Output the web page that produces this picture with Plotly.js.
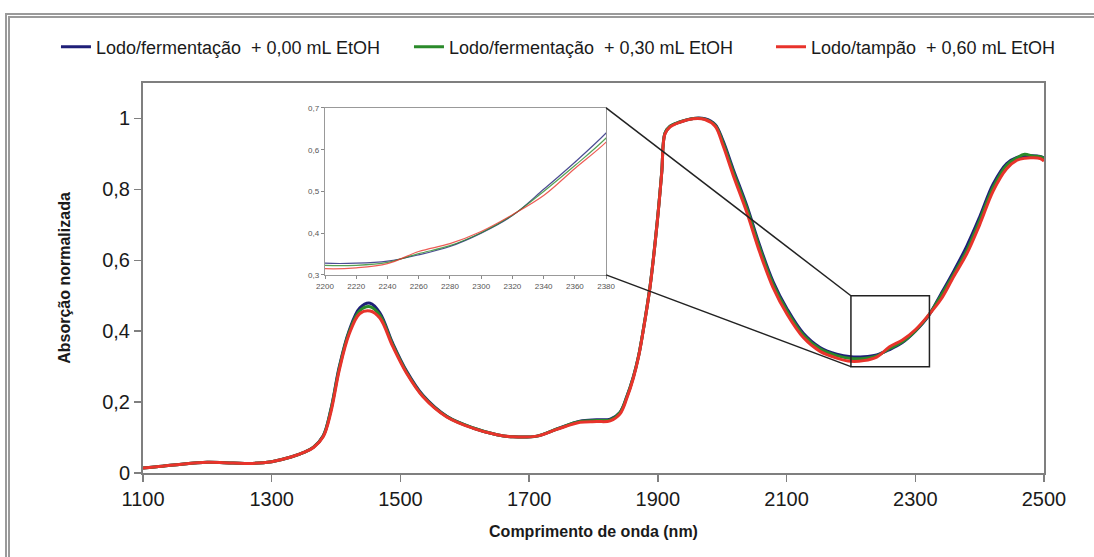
<!DOCTYPE html>
<html>
<head>
<meta charset="utf-8">
<script src="https://cdn.plot.ly/plotly-3.0.1.min.js"></script>
<style>
  html, body { margin: 0; padding: 0; background: #ffffff; overflow: hidden; }
  #chart { width: 1094px; height: 557px; }
  #frame { position: absolute; left: 5px; top: 13px; width: 1300px; height: 800px;
           border-top: 5px double #9a9a9a; border-left: 5px double #9a9a9a; pointer-events: none; }
</style>
</head>
<body>
<div id="chart"></div>
<div id="frame"></div>
<script>
// ---- data ----
const wavelength = [1100,1130,1160,1200,1240,1270,1300,1330,1350,1365,1380,1392,1405,1420,1437,1453,1468,1488,1510,1535,1572,1613,1650,1675,1712,1743,1779,1805,1826,1841,1852,1862,1870,1877,1888,1899,1906,1911,1919,1934,1955,1973,1989,2001,2017,2038,2058,2079,2101,2126,2152,2178,2200,2220,2240,2260,2280,2300,2320,2340,2360,2380,2400,2421,2442,2458,2470,2482,2494,2500];

const fermentacao000 = [0.014,0.019,0.025,0.030,0.028,0.027,0.032,0.045,0.058,0.073,0.105,0.180,0.300,0.400,0.466,0.479,0.452,0.366,0.286,0.219,0.160,0.127,0.108,0.102,0.104,0.124,0.146,0.150,0.152,0.171,0.217,0.272,0.330,0.400,0.528,0.708,0.848,0.958,0.978,0.990,1.000,0.999,0.983,0.938,0.857,0.755,0.643,0.540,0.462,0.394,0.354,0.335,0.328,0.328,0.333,0.348,0.368,0.400,0.442,0.505,0.570,0.640,0.722,0.815,0.873,0.890,0.894,0.895,0.893,0.889];

const fermentacao030 = [0.014,0.019,0.025,0.030,0.028,0.027,0.032,0.045,0.058,0.073,0.104,0.178,0.296,0.396,0.458,0.469,0.445,0.362,0.283,0.217,0.159,0.127,0.108,0.102,0.104,0.124,0.145,0.148,0.150,0.170,0.216,0.271,0.330,0.400,0.528,0.708,0.848,0.958,0.978,0.990,1.000,0.998,0.981,0.933,0.850,0.748,0.636,0.533,0.456,0.389,0.350,0.331,0.323,0.323,0.330,0.351,0.370,0.401,0.443,0.500,0.562,0.628,0.712,0.806,0.868,0.889,0.899,0.894,0.892,0.887];

const tampao060 = [0.014,0.019,0.025,0.030,0.028,0.027,0.032,0.045,0.058,0.072,0.102,0.172,0.290,0.390,0.450,0.457,0.437,0.357,0.280,0.215,0.158,0.126,0.108,0.102,0.104,0.123,0.143,0.145,0.147,0.166,0.212,0.268,0.328,0.398,0.526,0.706,0.846,0.956,0.976,0.989,0.999,0.997,0.978,0.925,0.840,0.736,0.624,0.523,0.447,0.382,0.343,0.324,0.315,0.317,0.327,0.356,0.375,0.404,0.444,0.490,0.555,0.618,0.700,0.795,0.858,0.882,0.888,0.889,0.887,0.880];

const seriesNames = ['Lodo/fermentação\u00a0\u00a0+ 0,00 mL EtOH', 'Lodo/fermentação\u00a0\u00a0+ 0,30 mL EtOH', 'Lodo/tampão\u00a0\u00a0+ 0,60 mL EtOH'];
const seriesColors = ['#1f1f78', '#2a8a2a', '#e8332b'];

const xTicks = [1100,1300,1500,1700,1900,2100,2300,2500];
const yTicks = [0,0.2,0.4,0.6,0.8,1];
const insetXTicks = [2200,2220,2240,2260,2280,2300,2320,2340,2360,2380];
const insetYTicks = [0.3,0.4,0.5,0.6,0.7];
const zoomBoxX = [2200, 2322];
const zoomBoxY = [0.3, 0.5];

// ---- chart ----
const FONT = 'Liberation Sans, Arial, sans-serif';
const mainX = [1100, 2500], mainY = [0, 1.1];
const insetX = [2200, 2380], insetY = [0.3, 0.7];
const insetDomX = [0.202, 0.514], insetDomY = [0.508, 0.936];
const legendIds = ['legend', 'legend2', 'legend3'];
const legendX = [-0.0966, 0.2952, 0.697];

const allSeries = [fermentacao000, fermentacao030, tampao060];
const traces = [];
allSeries.forEach((ys, i) => {
  traces.push({
    x: wavelength, y: ys, type: 'scatter', mode: 'lines', name: seriesNames[i],
    line: { color: seriesColors[i], width: 3, shape: 'spline', smoothing: 1 },
    xaxis: 'x', yaxis: 'y', legend: legendIds[i]
  });
});
allSeries.forEach((ys, i) => {
  traces.push({
    x: wavelength, y: ys, type: 'scatter', mode: 'lines', showlegend: false,
    line: { color: seriesColors[i], width: 1.2, shape: 'spline', smoothing: 1 },
    xaxis: 'x2', yaxis: 'y2', opacity: 0.8
  });
});

const px = v => (v - mainX[0]) / (mainX[1] - mainX[0]);
const py = v => (v - mainY[0]) / (mainY[1] - mainY[0]);

const layout = {
  width: 1094, height: 557,
  margin: { l: 143, r: 50, t: 83, b: 84 },
  paper_bgcolor: '#ffffff', plot_bgcolor: '#ffffff',
  separators: ', ',
  font: { family: FONT, color: '#1a1a1a' },
  showlegend: true,
  xaxis: {
    range: mainX, tickvals: xTicks, ticktext: xTicks.map(String),
    ticks: 'outside', ticklen: 7, tickcolor: '#7f7f7f', tickwidth: 1.5,
    showline: true, mirror: true, linecolor: '#7f7f7f', linewidth: 2,
    showgrid: false, zeroline: false,
    tickfont: { size: 20, family: FONT, color: '#1a1a1a' },
    title: { text: 'Comprimento de onda (nm)', font: { size: 16, family: FONT, weight: 'bold', color: '#1a1a1a' }, standoff: 17 }
  },
  yaxis: {
    range: mainY, tickvals: yTicks,
    ticks: 'outside', ticklen: 7, tickcolor: '#7f7f7f', tickwidth: 1.5,
    showline: true, mirror: true, linecolor: '#7f7f7f', linewidth: 2,
    showgrid: false, zeroline: false,
    tickfont: { size: 20, family: FONT, color: '#1a1a1a' },
    title: { text: 'Absorção normalizada', font: { size: 16, family: FONT, weight: 'bold', color: '#1a1a1a' }, standoff: 28 }
  },
  xaxis2: {
    domain: insetDomX, anchor: 'y2', range: insetX, tickvals: insetXTicks,
    ticks: 'outside', ticklen: 3, tickcolor: '#888',
    showline: true, mirror: true, linecolor: '#999', linewidth: 1.2,
    showgrid: false, zeroline: false,
    tickfont: { size: 8, family: FONT, color: '#555' }
  },
  yaxis2: {
    domain: insetDomY, anchor: 'x2', range: insetY, tickvals: insetYTicks,
    ticks: 'outside', ticklen: 3, tickcolor: '#888',
    showline: true, mirror: true, linecolor: '#999', linewidth: 1.2,
    showgrid: false, zeroline: false,
    tickfont: { size: 8, family: FONT, color: '#555' }
  },
  shapes: [
    { type: 'rect', xref: 'x', yref: 'y', x0: zoomBoxX[0], x1: zoomBoxX[1], y0: zoomBoxY[0], y1: zoomBoxY[1],
      line: { color: '#222', width: 1.5 }, fillcolor: 'rgba(0,0,0,0)' },
    { type: 'line', xref: 'paper', yref: 'paper', x0: insetDomX[1], y0: insetDomY[1], x1: px(zoomBoxX[0]), y1: py(zoomBoxY[1]),
      line: { color: '#222', width: 1.5 } },
    { type: 'line', xref: 'paper', yref: 'paper', x0: insetDomX[1], y0: insetDomY[0], x1: px(zoomBoxX[0]), y1: py(zoomBoxY[0]),
      line: { color: '#222', width: 1.5 } }
  ]
};
legendIds.forEach((id, i) => {
  layout[id] = {
    orientation: 'h', x: legendX[i], y: 1.092, xanchor: 'left', yanchor: 'middle',
    font: { size: 18, family: FONT, color: '#1a1a1a' }, bgcolor: 'rgba(0,0,0,0)'
  };
});

Plotly.newPlot('chart', traces, layout, { displayModeBar: false, staticPlot: true });
</script>
</body>
</html>
